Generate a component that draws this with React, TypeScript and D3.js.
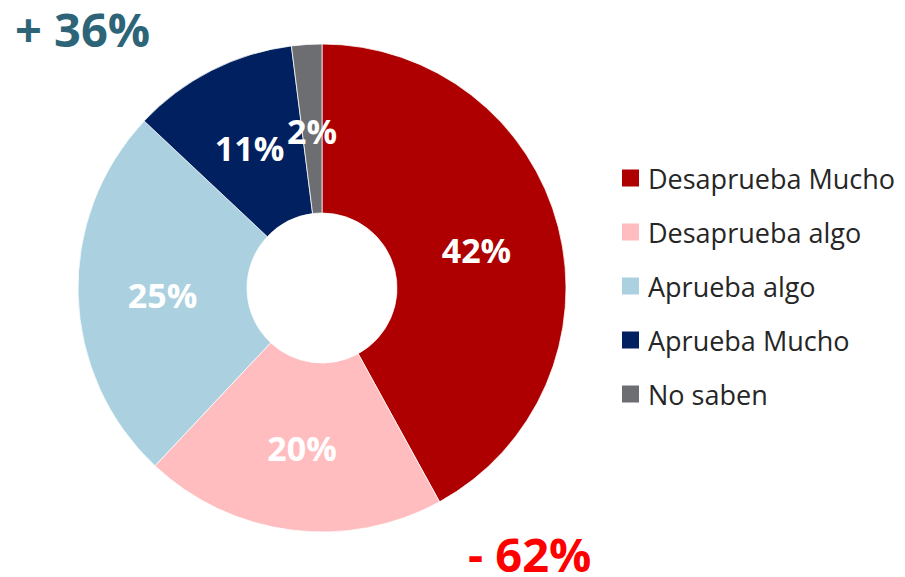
import React from "react";
import * as d3 from "d3";

const categories = ["Desaprueba Mucho", "Desaprueba algo", "Aprueba algo", "Aprueba Mucho", "No saben"];
const values = [42, 20, 25, 11, 2];
const colors = ["#AE0000", "#FFBDBF", "#ABD1E0", "#002060", "#6D6E71"];
const approveTotal = "+ 36%";
const disapproveTotal = "- 62%";

export default function App() {
  const W = 905, H = 577;
  const cx = 322, cy = 288, outerR = 244, innerR = 75;
  const pie = d3.pie<number>().sort(null).value((d) => d)(values);
  const arc = d3.arc<d3.PieArcDatum<number>>().innerRadius(innerR).outerRadius(outerR);
  const legendY = d3.scalePoint<string>().domain(categories).range([178, 394]);
  const font = "'Open Sans', 'Noto Sans', sans-serif";
  return (
    <svg width={W} height={H} style={{ position: "absolute", left: 0, top: 0, background: "#fff" }}>
      <g transform={`translate(${cx},${cy})`}>
        {pie.map((p, i) => (
          <path key={i} d={arc(p) || ""} fill={colors[i]} stroke="#fff" strokeWidth={0.75} />
        ))}
        {pie.map((p, i) => {
          const [x, y] = arc.centroid(p);
          return (
            <text key={i} x={x} y={y + 2} textAnchor="middle" dominantBaseline="central" fill="#fff"
              fontFamily={font} fontWeight={700} fontSize={34}>
              {values[i]}%
            </text>
          );
        })}
      </g>
      {categories.map((c, i) => (
        <g key={c} transform={`translate(622,${legendY(c)})`}>
          <rect x={0} y={-8.5} width={17} height={17} fill={colors[i]} />
          <text x={26} y={0} dominantBaseline="central" fill="#262626" fontFamily={font} fontSize={27}>
            {c}
          </text>
        </g>
      ))}
      <text x={15} y={47} fill="#2E6477" fontFamily={font} fontWeight={700} fontSize={47}>{approveTotal}</text>
      <text x={468} y={572} fill="#FF0000" fontFamily={font} fontWeight={700} fontSize={47}>{disapproveTotal}</text>
    </svg>
  );
}
